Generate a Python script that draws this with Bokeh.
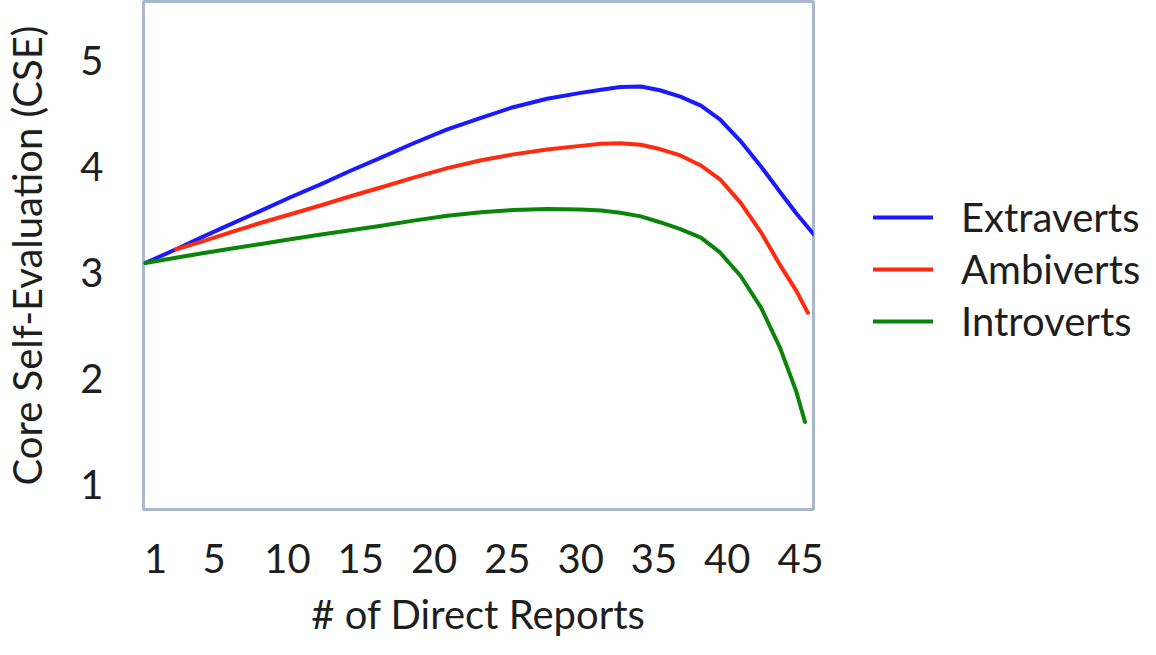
from bokeh.plotting import figure
from bokeh.models import Legend, LegendItem, FixedTicker, Range1d
from bokeh.embed import file_html
from bokeh.resources import INLINE

# ---- data ----
x_ticks = [1, 5, 10, 15, 20, 25, 30, 35, 40, 45]
y_ticks = [1, 2, 3, 4, 5]

extra_x = [0.3, 2.4, 4.1, 6.1, 8.2, 10.2, 12.3, 14.3, 16.3, 18.6, 20.9, 23.2, 25.4, 27.7,
           30.0, 31.4, 32.7, 34.1, 35.4, 36.8, 38.2, 39.5, 40.9, 42.3, 43.6, 44.7, 45.9]
extra_y = [3.09, 3.22, 3.33, 3.455, 3.585, 3.71, 3.835, 3.96, 4.08, 4.22, 4.35, 4.46, 4.56, 4.64,
           4.695, 4.725, 4.75, 4.755, 4.72, 4.66, 4.575, 4.445, 4.24, 4.00, 3.76, 3.56, 3.36]

ambi_x = [2.4, 4.1, 6.1, 8.2, 10.2, 12.3, 14.3, 16.3, 18.6, 20.9, 23.2, 25.4, 27.7,
          30.0, 31.4, 32.7, 34.1, 35.4, 36.8, 38.2, 39.5, 40.9, 42.3, 43.6, 44.7, 45.5]
ambi_y = [3.22, 3.29, 3.38, 3.47, 3.55, 3.635, 3.72, 3.80, 3.895, 3.985, 4.06, 4.115, 4.16,
          4.195, 4.215, 4.22, 4.205, 4.165, 4.105, 4.01, 3.88, 3.66, 3.38, 3.07, 2.83, 2.62]

intro_x = [0.3, 2.4, 4.1, 6.1, 8.2, 10.2, 12.3, 14.3, 16.3, 18.6, 20.9, 23.2, 25.4, 27.7,
           30.0, 31.4, 32.7, 34.1, 35.4, 36.8, 38.2, 39.5, 40.9, 42.3, 43.6, 44.7, 45.3]
intro_y = [3.09, 3.14, 3.18, 3.225, 3.27, 3.315, 3.36, 3.40, 3.44, 3.49, 3.535, 3.57, 3.59, 3.60,
           3.595, 3.585, 3.565, 3.53, 3.475, 3.41, 3.33, 3.19, 2.97, 2.67, 2.29, 1.88, 1.59]

series_names = ["Extraverts", "Ambiverts", "Introverts"]
series_colors = ["#1a1aff", "#ff2a10", "#0a850a"]

FONT = "Lato"
TEXT_COLOR = "#1e1e1e"
FS = "40px"

p = figure(frame_width=670, frame_height=508, output_backend="svg", toolbar_location=None,
           x_range=Range1d(0.18, 45.88), y_range=Range1d(0.765, 5.557),
           min_border_left=135, min_border_right=335, min_border_top=1, min_border_bottom=130)

p.outline_line_color = "#a9b8cc"
p.outline_line_width = 3
p.xgrid.visible = False
p.ygrid.visible = False

renderers = []
for xs, ys, c in [(extra_x, extra_y, series_colors[0]),
                  (ambi_x, ambi_y, series_colors[1]),
                  (intro_x, intro_y, series_colors[2])]:
    r = p.line(xs, ys, line_color=c, line_width=4, line_cap="round", line_join="round")
    renderers.append(r)

for ax in (p.xaxis[0], p.yaxis[0]):
    ax.axis_line_color = None
    ax.major_tick_line_color = None
    ax.minor_tick_line_color = None
    ax.major_label_text_font = FONT
    ax.major_label_text_font_size = FS
    ax.major_label_text_color = TEXT_COLOR
    ax.axis_label_text_font = FONT
    ax.axis_label_text_font_size = FS
    ax.axis_label_text_font_style = "normal"
    ax.axis_label_text_color = TEXT_COLOR

p.xaxis.ticker = FixedTicker(ticks=x_ticks)
p.yaxis.ticker = FixedTicker(ticks=y_ticks)
p.xaxis.axis_label = "# of Direct Reports"
p.yaxis.axis_label = "Core Self-Evaluation (CSE)"
p.xaxis.major_label_standoff = 28
p.yaxis.major_label_standoff = 34
p.xaxis.axis_label_standoff = 14
p.yaxis.axis_label_standoff = 26

legend = Legend(items=[LegendItem(label=n, renderers=[r]) for n, r in zip(series_names, renderers)],
                location=(60, 164))
legend.label_text_font = FONT
legend.label_text_font_size = FS
legend.label_text_color = TEXT_COLOR
legend.glyph_width = 60
legend.glyph_height = 44
legend.label_height = 44
legend.label_standoff = 28
legend.spacing = 4
legend.padding = 0
legend.margin = 0
legend.border_line_color = None
legend.background_fill_alpha = 0
p.add_layout(legend, "right")

open("out.html", "w").write(file_html(p, INLINE))
